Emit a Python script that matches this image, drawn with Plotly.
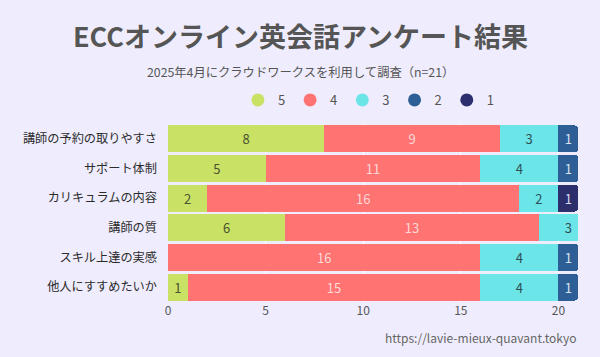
import plotly.graph_objects as go

categories = ["講師の予約の取りやすさ", "サポート体制", "カリキュラムの内容", "講師の質", "スキル上達の実感", "他人にすすめたいか"]
series_names = ["5", "4", "3", "2", "1"]
s5 = [8, 5, 2, 6, 0, 1]
s4 = [9, 11, 16, 13, 16, 15]
s3 = [3, 4, 2, 3, 4, 4]
s2 = [1, 1, 0, 0, 1, 1]
s1 = [0, 0, 1, 0, 0, 0]
series_values = [s5, s4, s3, s2, s1]
x_ticks = [0, 5, 10, 15, 20]

colors = ["#C9E265", "#FF7373", "#6CE5E8", "#2D5F96", "#2C2F6C"]
text_colors = ["#4A5230", "#FFD8D8", "#2F4F55", "#D8E2F0", "#D8DAEE"]
FONT = "Noto Sans CJK JP"
BG = "#EFEDFD"

fig = go.Figure()
for name, vals, c, tc in zip(series_names, series_values, colors, text_colors):
    fig.add_trace(go.Bar(
        y=categories, x=[v if v else None for v in vals], name=name, orientation="h",
        marker=dict(color=c, line=dict(width=0)),
        text=[str(v) if v else "" for v in vals], textposition="inside",
        insidetextanchor="middle", textfont=dict(color=tc, size=13, family=FONT),
        constraintext="none", showlegend=False, hoverinfo="x+y",
    ))
    fig.add_trace(go.Scatter(
        x=[None], y=[None], mode="markers", name=name,
        marker=dict(color=c, size=13, symbol="circle"), showlegend=True,
    ))

fig.update_layout(
    width=600, height=357, barmode="stack", bargap=0.1, barcornerradius=3,
    paper_bgcolor=BG, plot_bgcolor=BG,
    margin=dict(l=168, r=22, t=124, b=55, autoexpand=False),
    font=dict(family=FONT, color="#555555"),
    legend=dict(orientation="h", x=0.49, xanchor="center", y=1.135, yanchor="middle",
                traceorder="normal",
                font=dict(size=13, color="#555555"), itemwidth=30, tracegroupgap=0,
                bgcolor="rgba(0,0,0,0)"),
    xaxis=dict(range=[0, 21], tickvals=x_ticks, showgrid=True, gridcolor="#FFFFFF",
               gridwidth=1, zeroline=False, showline=False, ticks="", automargin=False,
               tickfont=dict(size=12, color="#555555")),
    yaxis=dict(categoryorder="array", categoryarray=categories[::-1], showgrid=False,
               ticks="", ticklabelstandoff=10, automargin=False,
               tickfont=dict(size=12.2, color="#2B2B2B")),
    annotations=[
        dict(text="<b>ECCオンライン英会話アンケート結果</b>", xref="paper", yref="paper",
             x=(300 - 168) / 410, y=(302 - 36) / 178, xanchor="center", yanchor="middle",
             showarrow=False, font=dict(size=27, color="#555555", family=FONT)),
        dict(text="2025年4月にクラウドワークスを利用して調査（n=21）", xref="paper", yref="paper",
             x=(300 - 168) / 410, y=(302 - 72) / 178, xanchor="center", yanchor="middle",
             showarrow=False, font=dict(size=12.3, color="#555555", family=FONT)),
        dict(text="https://lavie-mieux-quavant.tokyo", xref="paper", yref="paper",
             x=1, y=(302 - 337) / 178, xanchor="right", yanchor="middle",
             showarrow=False, font=dict(size=12, color="#666666", family=FONT)),
    ],
)

fig.write_html("out.html", config={"displayModeBar": False},
               post_script="document.body.style.margin='0';document.body.style.background='%s';" % BG)
